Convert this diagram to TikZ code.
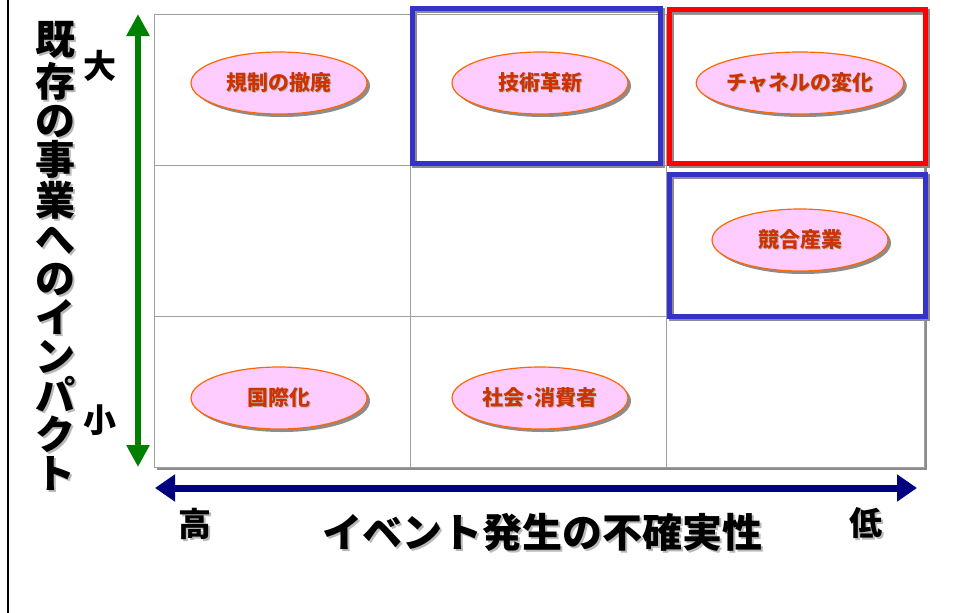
\documentclass[tikz,border=0pt]{standalone}
\usepackage{fontspec}
\setmainfont{Noto Sans CJK JP}
\usepackage{xcolor}
\usetikzlibrary{arrows.meta,shapes.geometric,shadows}
\definecolor{ovalfill}{HTML}{FFCCFF}
\definecolor{ovaledge}{HTML}{FF6600}
\definecolor{ovaltext}{HTML}{CC3300}
\definecolor{boxblue}{HTML}{3333CC}
\definecolor{axisgreen}{HTML}{008000}
\definecolor{axisnavy}{HTML}{000080}
\newcommand{\shadowtxt}[2][2pt]{\makebox[0pt][l]{\hspace{#1}\raisebox{-#1}{\textcolor{gray!55}{#2}}}#2}
\tikzset{
  oval/.style={ellipse, draw=ovaledge, line width=1.2pt, fill=ovalfill, text=ovaltext, minimum width=176pt, minimum height=62pt, inner sep=0pt, font=\bfseries\fontsize{21}{21}\selectfont, drop shadow={shadow xshift=3pt, shadow yshift=-3pt, fill=gray!90, opacity=1}},
  cell/.style={draw=gray!75, line width=1pt},
  hlbox/.style={line width=5pt, preaction={draw=gray!90, line width=5pt, transform canvas={shift={(2.5pt,-2.5pt)}}}},
  impact/.style={{Triangle[length=22pt,width=22pt]}-{Triangle[length=22pt,width=22pt]}, line width=6pt, draw=axisgreen},
  chance/.style={{Triangle[length=20pt,width=26pt]}-{Triangle[length=20pt,width=26pt]}, line width=7pt, draw=axisnavy},
  biglabel/.style={font=\bfseries\fontsize{40}{39}\selectfont, inner sep=0pt},
  endlabel/.style={font=\bfseries\fontsize{33}{33}\selectfont, inner sep=0pt}
}
\begin{document}
\begin{tikzpicture}[x=1pt, y=-1pt]
  \useasboundingbox (0,0) rectangle (961,613);
  \draw[line width=2pt] (8,0) -- (8,613);

  % matrix
  \fill[white, drop shadow={shadow xshift=3pt, shadow yshift=-3pt, fill=gray!90, opacity=1}] (154,14) rectangle (924,467);
  \draw[cell] (154,14) rectangle (924,467);
  \draw[cell] (410,14) -- (410,467);
  \draw[cell] (666,14) -- (666,467);
  \draw[cell] (154,165) -- (924,165);
  \draw[cell] (154,316) -- (924,316);

  \draw[hlbox, draw=boxblue] (412,8) rectangle (660,163);
  \draw[hlbox, draw=red] (669,9) rectangle (925,163);
  \draw[hlbox, draw=boxblue] (669,174) rectangle (925,316);

  \node[oval] (kisei) at (279,83) {\shadowtxt[1pt]{規制の撤廃}};
  \node[oval] (gijutsu) at (540,83) {\shadowtxt[1pt]{技術革新}};
  \node[oval] (channel) at (800,83) {\shadowtxt[1pt]{チャネルの変化}};
  \node[oval] (kyogo) at (800,240) {\shadowtxt[1pt]{競合産業}};
  \node[oval] (kokusai) at (279,398) {\shadowtxt[1pt]{国際化}};
  \node[oval] (shakai) at (540,398) {\shadowtxt[1pt]{社会･消費者}};

  % axes
  \coordinate (ytop) at (138,14);
  \coordinate (ybot) at (138,467);
  \draw[impact] (ybot) -- (ytop);
  \coordinate (xleft) at (155,488);
  \coordinate (xright) at (917,488);
  \draw[chance] (xleft) -- (xright);

  \node[biglabel, align=center] (impactlbl) at (55,257) {\shadowtxt{既}\\\shadowtxt{存}\\\shadowtxt{の}\\\shadowtxt{事}\\\shadowtxt{業}\\\shadowtxt{へ}\\\shadowtxt{の}\\\shadowtxt{イ}\\\shadowtxt{ン}\\\shadowtxt{パ}\\\shadowtxt{ク}\\\shadowtxt{ト}};
  \node[endlabel] (dai) at (100,66) {大};
  \node[endlabel] (sho) at (100,420) {小};
  \node[endlabel] (ko) at (195,525) {\shadowtxt{高}};
  \node[endlabel] (tei) at (866,524) {\shadowtxt{低}};
  \node[biglabel] (chancelbl) at (542,533) {\shadowtxt{イベント発生の不確実性}};
\end{tikzpicture}
\end{document}
